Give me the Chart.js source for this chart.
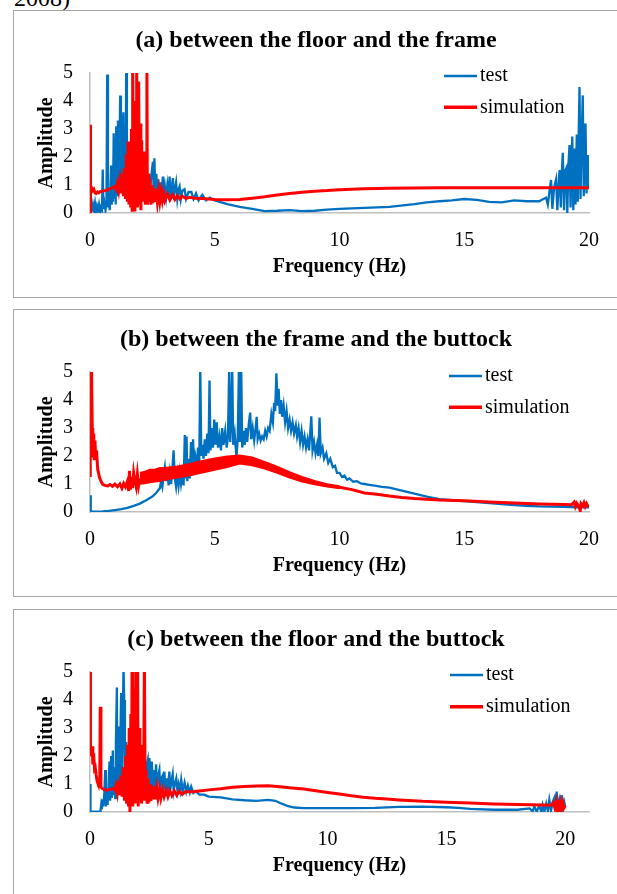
<!DOCTYPE html>
<html><head><meta charset="utf-8">
<script src="https://cdn.jsdelivr.net/npm/chart.js@4/dist/chart.umd.min.js"></script>
<style>
html,body{margin:0;padding:0;background:#fff;overflow:hidden;width:617px;height:894px}
.panel{position:absolute;left:13px;width:620px;height:288px;border:1px solid #a6a6a6;box-sizing:border-box;background:#fff}
.panel canvas{position:absolute;left:0;top:0}
#cut{position:absolute;left:14px;top:-14px;font:24px/24px "Liberation Serif";color:#000;white-space:nowrap}
</style></head><body>
<div id="cut">2008)</div>
<div class="panel" style="top:10px"><canvas id="ca" width="605" height="286"></canvas></div>
<div class="panel" style="top:309px"><canvas id="cb" width="605" height="286"></canvas></div>
<div class="panel" style="top:609px"><canvas id="cc" width="605" height="286"></canvas></div>
<script>
// ---------- data: [frequency (Hz), amplitude] ----------
const titles = ["(a) between the floor and the frame", "(b) between the frame and the buttock", "(c) between the floor and the buttock"];
const seriesNames = ["test", "simulation"];
const xTicks = [0, 5, 10, 15, 20];
const yTicks = [0, 1, 2, 3, 4, 5];

const aTest = [[0,0.5],[0.02,0.05],[0.05,0.25],[0.08,0.05],[0.12,0.3],[0.16,0.1],[0.2,0.35],[0.24,0.05],[0.28,0.25],[0.32,0.1],[0.36,0.3],[0.4,0.05],[0.44,0.2],[0.48,0.1],[0.51,1.55],[0.54,0.15],[0.58,0.35],[0.62,0.1],[0.66,0.4],[0.69,4.95],[0.72,0.2],[0.76,0.6],[0.79,0.1],[0.82,0.9],[0.85,1.7],[0.87,0.3],[0.9,1.2],[0.92,0.4],[0.95,2.85],[0.98,0.5],[1.01,1.6],[1.03,0.3],[1.05,3.1],[1.08,0.6],[1.1,2.0],[1.12,3.3],[1.15,0.8],[1.18,2.2],[1.21,4.2],[1.24,1.0],[1.26,2.5],[1.28,3.5],[1.31,0.9],[1.34,3.6],[1.37,1.2],[1.4,2.8],[1.43,1.0],[1.45,5.2],[1.48,2.5],[1.51,0.9],[1.55,1.8],[1.6,0.7],[1.65,1.6],[1.7,0.6],[1.75,1.5],[1.8,0.8],[1.85,2.0],[1.9,0.9],[1.95,2.3],[2.0,1.0],[2.05,1.9],[2.1,0.8],[2.15,1.6],[2.2,0.7],[2.25,1.5],[2.3,0.8],[2.35,1.4],[2.4,0.7],[2.45,1.3],[2.52,1.83],[2.55,0.8],[2.58,1.95],[2.62,0.7],[2.66,1.4],[2.7,0.6],[2.74,1.2],[2.78,0.6],[2.82,1.1],[2.86,0.55],[2.92,1.3],[2.96,0.6],[3.0,0.95],[3.05,0.55],[3.1,1.0],[3.15,0.6],[3.19,1.3],[3.23,0.55],[3.28,0.9],[3.32,1.25],[3.36,0.55],[3.4,0.85],[3.45,1.1],[3.5,0.5],[3.55,0.85],[3.59,0.95],[3.64,0.5],[3.7,0.8],[3.79,0.85],[3.85,0.5],[3.95,0.75],[4.06,0.75],[4.15,0.5],[4.25,0.7],[4.35,0.45],[4.5,0.65],[4.65,0.45],[4.8,0.55],[5.0,0.45],[5.2,0.4],[5.5,0.32],[6.0,0.22],[6.5,0.15],[7.0,0.07],[7.5,0.08],[8.0,0.1],[8.5,0.07],[9.0,0.08],[9.5,0.12],[10.0,0.15],[11.0,0.18],[12.0,0.22],[13.0,0.32],[13.5,0.38],[14.0,0.42],[14.5,0.45],[15.0,0.5],[15.5,0.47],[16.0,0.4],[16.5,0.38],[17.0,0.45],[17.5,0.42],[18.0,0.42],[18.28,0.55],[18.35,0.3],[18.42,0.8],[18.48,1.18],[18.53,0.15],[18.6,0.9],[18.68,1.2],[18.73,0.1],[18.78,1.0],[18.82,1.53],[18.87,0.2],[18.91,1.4],[18.95,2.15],[19.0,0.1],[19.04,1.5],[19.09,1.6],[19.13,0.0],[19.18,1.8],[19.22,2.43],[19.26,0.2],[19.3,1.9],[19.33,2.73],[19.37,0.1],[19.42,2.3],[19.46,0.3],[19.51,2.8],[19.55,0.4],[19.59,3.0],[19.62,4.5],[19.66,0.5],[19.7,2.5],[19.75,4.2],[19.79,0.6],[19.83,2.8],[19.86,3.2],[19.9,0.7],[19.95,2.07],[19.98,0.9],[20.0,1.9]];

const aSim = [[0,0.05],[0.01,3.15],[0.03,1.0],[0.06,0.9],[0.1,0.8],[0.15,0.85],[0.2,0.72],[0.25,0.7],[0.3,0.75],[0.35,0.72],[0.4,0.76],[0.5,0.78],[0.6,0.8],[0.7,0.82],[0.8,0.87],[0.9,0.9],[1.0,0.95],[1.05,0.85],[1.1,1.05],[1.15,0.8],[1.2,1.15],[1.25,0.7],[1.3,1.4],[1.34,0.6],[1.38,1.6],[1.42,0.5],[1.46,2.1],[1.5,0.4],[1.53,2.55],[1.56,0.3],[1.6,2.2],[1.63,0.2],[1.66,3.0],[1.69,0.1],[1.71,5.5],[1.74,0.3],[1.77,3.5],[1.8,0.05],[1.83,4.0],[1.85,0.4],[1.87,5.5],[1.9,0.2],[1.93,3.8],[1.95,4.7],[1.98,0.3],[2.01,3.2],[2.04,0.1],[2.07,2.6],[2.1,0.4],[2.13,2.2],[2.16,0.5],[2.19,1.8],[2.22,0.3],[2.25,1.5],[2.28,5.5],[2.3,0.3],[2.33,1.4],[2.36,0.4],[2.4,1.2],[2.44,0.3],[2.48,1.0],[2.52,0.35],[2.56,0.9],[2.6,0.4],[2.65,0.85],[2.7,0.4],[2.75,0.8],[2.8,0.42],[2.85,0.75],[2.9,0.45],[2.95,0.7],[3.0,0.45],[3.1,0.68],[3.2,0.47],[3.3,0.65],[3.4,0.48],[3.5,0.62],[3.6,0.5],[3.7,0.6],[3.85,0.52],[4.0,0.56],[4.2,0.53],[4.5,0.52],[5.0,0.48],[5.5,0.47],[6.0,0.48],[6.5,0.53],[7.0,0.58],[7.5,0.64],[8.0,0.7],[8.5,0.74],[9.0,0.78],[9.5,0.8],[10.0,0.83],[10.5,0.85],[11.0,0.87],[12.0,0.88],[13.0,0.89],[14.0,0.9],[15.0,0.9],[16.0,0.9],[17.0,0.9],[18.0,0.9],[19.0,0.9],[20.0,0.9]];

const bTest = [[0,0.6],[0.03,0.05],[0.1,0.01],[0.3,0.01],[0.5,0.02],[0.75,0.04],[1.0,0.07],[1.25,0.1],[1.5,0.15],[1.75,0.22],[2.0,0.3],[2.25,0.42],[2.5,0.55],[2.65,0.68],[2.8,0.85],[2.85,1.1],[2.9,0.9],[2.95,1.3],[3.0,1.6],[3.05,1.1],[3.1,1.5],[3.15,0.95],[3.2,1.4],[3.25,1.0],[3.3,1.5],[3.35,2.2],[3.4,1.2],[3.45,0.9],[3.5,1.35],[3.55,0.95],[3.6,1.4],[3.65,1.0],[3.7,1.3],[3.75,0.95],[3.8,2.75],[3.83,1.2],[3.87,2.7],[3.9,1.1],[3.95,1.9],[4.0,1.2],[4.05,2.5],[4.1,1.3],[4.13,2.6],[4.17,1.5],[4.22,2.0],[4.28,1.7],[4.33,2.3],[4.38,1.8],[4.42,5.2],[4.46,2.0],[4.5,2.4],[4.55,1.9],[4.6,2.6],[4.65,2.0],[4.7,2.8],[4.75,2.1],[4.79,4.7],[4.83,2.2],[4.88,3.0],[4.93,2.3],[4.98,3.3],[5.03,2.4],[5.08,3.2],[5.13,2.3],[5.19,2.7],[5.25,2.2],[5.3,3.0],[5.35,2.4],[5.42,2.9],[5.48,2.3],[5.53,2.7],[5.58,5.2],[5.62,2.5],[5.66,3.2],[5.7,5.2],[5.74,2.4],[5.8,2.8],[5.87,1.95],[5.92,2.6],[5.97,5.2],[6.01,2.5],[6.06,5.2],[6.1,2.3],[6.15,2.9],[6.2,2.4],[6.25,3.0],[6.3,2.5],[6.37,3.2],[6.42,3.55],[6.46,2.6],[6.52,3.0],[6.58,2.55],[6.64,3.0],[6.68,3.4],[6.72,2.6],[6.78,2.8],[6.84,2.55],[6.9,2.7],[6.96,2.6],[7.02,2.9],[7.08,2.7],[7.14,3.0],[7.2,2.9],[7.27,3.5],[7.33,3.2],[7.38,3.9],[7.42,3.6],[7.47,4.95],[7.52,3.8],[7.56,4.4],[7.61,3.5],[7.66,4.0],[7.7,3.4],[7.76,3.8],[7.82,3.2],[7.88,3.6],[7.94,3.0],[8.0,3.3],[8.06,2.9],[8.12,3.2],[8.18,2.8],[8.25,3.1],[8.3,2.7],[8.36,3.0],[8.42,2.5],[8.48,2.9],[8.54,2.4],[8.6,2.7],[8.66,2.3],[8.72,2.6],[8.78,2.2],[8.87,3.42],[8.92,2.2],[8.98,2.5],[9.04,2.1],[9.1,2.4],[9.15,2.0],[9.2,3.37],[9.25,2.1],[9.32,2.3],[9.38,1.9],[9.47,2.1],[9.55,1.75],[9.63,1.9],[9.73,1.6],[9.82,1.65],[9.9,1.4],[10.0,1.4],[10.1,1.25],[10.2,1.3],[10.3,1.15],[10.4,1.2],[10.55,1.08],[10.7,1.1],[10.85,1.02],[11.0,1.0],[11.2,0.97],[11.47,0.93],[11.7,0.9],[12.0,0.87],[12.5,0.76],[13.0,0.66],[13.5,0.55],[14.0,0.46],[14.5,0.42],[15.0,0.39],[15.5,0.35],[16.0,0.32],[16.5,0.28],[17.0,0.25],[17.5,0.22],[18.0,0.2],[18.5,0.19],[19.0,0.18],[19.5,0.17],[20.0,0.17]];

const bSim = [[0,1.3],[0.01,5.2],[0.06,5.2],[0.09,3.0],[0.11,2.9],[0.13,2.0],[0.15,2.8],[0.17,1.9],[0.2,2.55],[0.23,1.85],[0.26,2.2],[0.31,1.52],[0.38,1.24],[0.45,1.08],[0.51,0.99],[0.6,0.95],[0.71,0.93],[0.8,0.98],[0.9,0.92],[1.0,1.0],[1.1,0.9],[1.2,1.0],[1.28,0.85],[1.35,1.02],[1.42,0.9],[1.5,1.1],[1.55,0.75],[1.58,1.47],[1.62,0.8],[1.66,1.25],[1.7,0.85],[1.75,1.4],[1.8,1.1],[1.85,0.9],[1.9,1.35],[1.95,0.95],[2.0,1.2],[5.0,null],[9.9,0.9],[10.5,0.8],[11.0,0.68],[11.5,0.63],[12.0,0.57],[12.5,0.52],[13.0,0.48],[14.0,0.43],[15.0,0.4],[16.0,0.36],[17.0,0.32],[18.0,0.29],[19.0,0.27],[19.3,0.26],[19.4,0.35],[19.45,0.2],[19.5,0.32],[19.58,0.22],[19.65,0.05],[19.68,0.3],[19.75,0.22],[19.8,0.33],[19.85,0.2],[19.9,0.3],[19.95,0.22],[20.0,0.25]];
// simulation band (b): [frequency, upper edge, lower edge]
const bSimBand = [[2.0,1.4,1.0],[2.2,1.45,1.02],[2.4,1.52,1.05],[2.6,1.52,1.08],[2.8,1.58,1.1],[3.0,1.58,1.14],[3.5,1.63,1.22],[4.0,1.72,1.3],[4.5,1.83,1.4],[5.0,1.92,1.5],[5.5,1.99,1.6],[6.0,2.03,1.72],[6.5,1.96,1.66],[7.0,1.8,1.54],[7.5,1.63,1.39],[8.0,1.43,1.22],[8.5,1.26,1.08],[9.0,1.12,0.98],[9.5,1.0,0.9],[10.0,0.93,0.84]];

const cTest = [[0,1.0],[0.02,0.02],[0.2,0.01],[0.44,0.02],[0.47,0.25],[0.5,0.1],[0.53,0.45],[0.56,0.2],[0.6,0.6],[0.64,1.5],[0.67,0.2],[0.7,0.7],[0.74,0.25],[0.78,0.9],[0.82,1.8],[0.85,0.4],[0.89,2.0],[0.92,0.5],[0.96,2.2],[0.99,0.6],[1.03,1.6],[1.06,0.5],[1.09,2.4],[1.13,4.45],[1.15,0.8],[1.18,2.0],[1.21,3.05],[1.24,0.9],[1.27,2.2],[1.31,4.25],[1.34,1.0],[1.37,2.8],[1.41,5.2],[1.44,4.0],[1.47,1.2],[1.52,2.5],[1.56,0.8],[1.62,1.8],[1.68,0.7],[1.74,1.6],[1.8,0.8],[1.86,1.9],[1.92,0.9],[1.98,1.7],[2.04,0.8],[2.1,1.8],[2.16,0.9],[2.22,1.6],[2.28,0.8],[2.34,1.5],[2.43,1.86],[2.47,0.9],[2.5,1.93],[2.55,0.9],[2.6,1.8],[2.65,0.8],[2.7,1.5],[2.74,0.85],[2.78,1.7],[2.82,0.8],[2.87,1.3],[2.92,1.5],[2.96,0.8],[3.01,1.2],[3.06,1.3],[3.1,0.8],[3.13,1.44],[3.17,0.8],[3.22,1.2],[3.27,0.75],[3.34,1.44],[3.38,0.8],[3.43,1.1],[3.48,1.35],[3.52,0.75],[3.57,1.0],[3.63,1.2],[3.68,0.75],[3.73,1.0],[3.79,0.75],[3.84,1.15],[3.9,0.75],[3.98,1.05],[4.05,0.72],[4.12,0.95],[4.2,0.7],[4.26,0.9],[4.35,0.68],[4.45,0.75],[4.6,0.62],[4.8,0.62],[5.0,0.55],[5.5,0.52],[6.0,0.45],[6.5,0.42],[7.0,0.4],[7.5,0.43],[7.8,0.4],[8.0,0.32],[8.3,0.22],[8.6,0.16],[9.0,0.14],[10.0,0.14],[11.0,0.14],[12.0,0.15],[13.0,0.18],[14.0,0.19],[15.0,0.17],[15.5,0.15],[16.0,0.11],[17.0,0.08],[18.0,0.08],[18.5,0.13],[18.63,0.02],[18.7,0.2],[18.8,0.01],[18.9,0.22],[19.0,0.0],[19.05,0.25],[19.12,0.02],[19.2,0.3],[19.27,0.03],[19.33,0.43],[19.4,0.05],[19.47,0.35],[19.54,0.5],[19.58,0.05],[19.64,0.73],[19.69,0.1],[19.75,0.4],[19.8,0.08],[19.86,0.6],[19.91,0.1],[19.96,0.35],[20.0,0.2]];

const cSim = [[0,5.3],[0.01,2.9],[0.03,2.4],[0.06,2.0],[0.09,2.35],[0.12,1.7],[0.15,2.1],[0.19,1.55],[0.22,1.6],[0.26,1.32],[0.3,1.1],[0.33,1.03],[0.38,0.9],[0.41,0.95],[0.43,3.76],[0.46,0.9],[0.5,0.85],[0.55,0.82],[0.61,0.8],[0.7,0.78],[0.8,0.8],[0.9,0.82],[1.0,0.85],[1.05,0.78],[1.1,0.95],[1.15,0.7],[1.2,1.1],[1.25,0.6],[1.3,1.3],[1.35,0.55],[1.4,1.6],[1.45,0.4],[1.5,2.0],[1.54,0.3],[1.58,2.4],[1.62,0.2],[1.65,3.0],[1.68,0.0],[1.72,3.5],[1.75,0.3],[1.77,5.5],[1.8,0.2],[1.84,3.8],[1.87,4.4],[1.9,0.3],[1.94,5.5],[1.97,0.5],[2.0,5.5],[2.03,0.2],[2.07,3.0],[2.1,0.4],[2.14,2.4],[2.17,0.3],[2.21,2.0],[2.25,0.4],[2.29,5.5],[2.32,0.4],[2.36,1.5],[2.4,0.35],[2.44,1.2],[2.48,0.35],[2.52,1.0],[2.56,0.4],[2.6,0.95],[2.65,0.45],[2.7,0.9],[2.75,0.45],[2.8,0.85],[2.86,0.5],[2.92,0.82],[2.98,0.5],[3.05,0.8],[3.12,0.55],[3.2,0.78],[3.28,0.55],[3.36,0.76],[3.45,0.58],[3.55,0.75],[3.65,0.6],[3.75,0.74],[3.88,0.63],[4.0,0.72],[4.3,0.72],[4.6,0.75],[5.0,0.79],[5.5,0.83],[6.0,0.88],[6.5,0.91],[7.0,0.93],[7.5,0.94],[8.0,0.9],[8.5,0.86],[9.0,0.82],[9.5,0.76],[10.0,0.7],[10.5,0.64],[11.0,0.58],[11.5,0.53],[12.0,0.49],[12.5,0.46],[13.0,0.43],[14.0,0.38],[15.0,0.35],[16.0,0.32],[17.0,0.29],[18.0,0.27],[19.0,0.25],[19.4,0.24],[19.5,0.33],[19.56,0.15],[19.62,0.38],[19.67,0.0],[19.7,0.43],[19.75,0.1],[19.8,0.35],[19.85,0.12],[19.9,0.32],[19.95,0.15],[20.0,0.22]];

// ---------- drawing ----------
const BLUE = '#0070C0', RED = '#FF0000', AXIS = '#bfbfbf';
const FONT = '"Liberation Serif", "Times New Roman", serif';
const xy = arr => arr.map(p => ({x: p[0], y: p[1]}));

const deco = {
  id: 'deco',
  afterDraw(chart, args, o) {
    const ctx = chart.ctx;
    ctx.save();
    ctx.fillStyle = '#000';
    ctx.font = 'bold 24px ' + FONT;
    ctx.textAlign = 'center';
    ctx.textBaseline = 'middle';
    ctx.fillText(o.title, 302, 30);
    const items = [[seriesNames[0], BLUE, 2.5, o.ly[0]], [seriesNames[1], RED, 3.5, o.ly[1]]];
    ctx.font = '20px ' + FONT;
    ctx.textAlign = 'left';
    items.forEach(([txt, col, w, y]) => {
      ctx.strokeStyle = col; ctx.lineWidth = w; ctx.lineCap = 'butt';
      ctx.beginPath(); ctx.moveTo(o.lx, y); ctx.lineTo(o.lx + 33, y); ctx.stroke();
      ctx.fillStyle = '#000';
      ctx.fillText(txt, o.lx + 36, y);
    });
    ctx.restore();
  }
};

function makeChart(id, title, test, sim, band, xMax, lx, ly) {
  const datasets = [
    {data: xy(test), borderColor: BLUE, borderWidth: 2.3, order: 10},
    {data: xy(sim), borderColor: RED, borderWidth: 3, order: 1, spanGaps: false}
  ];
  if (band) {
    datasets.push({data: band.map(r => ({x: r[0], y: r[1]})), borderColor: RED, borderWidth: 1.5, order: 2, fill: false});
    datasets.push({data: band.map(r => ({x: r[0], y: r[2]})), borderColor: RED, borderWidth: 1.5, order: 2, fill: '-1', backgroundColor: RED});
  }
  new Chart(document.getElementById(id), {
    type: 'line',
    data: {datasets},
    plugins: [deco],
    options: {
      responsive: false, animation: false, events: [],
      layout: {padding: {left: 0, top: 62, right: 30, bottom: 0}},
      elements: {point: {radius: 0}, line: {tension: 0, borderCapStyle: 'butt'}},
      plugins: {
        legend: {display: false}, tooltip: {enabled: false}, title: {display: false},
        deco: {title, lx, ly}
      },
      scales: {
        x: {
          type: 'linear', min: 0, max: xMax,
          afterFit: s => { s.height = 84; },
          afterBuildTicks: s => { s.ticks = xTicks.map(v => ({value: v})); },
          grid: {display: false, drawTicks: false},
          border: {display: true, color: AXIS, width: 1.5},
          ticks: {color: '#000', padding: 16, maxRotation: 0, autoSkip: false, font: {family: FONT, size: 20}},
          title: {display: true, text: 'Frequency (Hz)', color: '#000', font: {family: FONT, size: 20, weight: 'bold'}, padding: {top: 0, bottom: 18}}
        },
        y: {
          min: 0, max: 5,
          afterFit: s => { s.width = 76; },
          afterBuildTicks: s => { s.ticks = yTicks.map(v => ({value: v})); },
          grid: {display: false, drawTicks: false},
          border: {display: true, color: AXIS, width: 1.5},
          ticks: {color: '#000', padding: 17, font: {family: FONT, size: 20}},
          title: {display: true, text: 'Amplitude', color: '#000', font: {family: FONT, size: 20, weight: 'bold'}, padding: {top: 21, bottom: 0}}
        }
      }
    }
  });
}

makeChart('ca', titles[0], aTest, aSim, null, 20, 430, [65, 96.3]);
makeChart('cb', titles[1], bTest, bSim, bSimBand, 20, 435, [66, 97.3]);
makeChart('cc', titles[2], cTest, cSim, null, 21, 436, [65, 96.7]);
</script>
</body></html>
